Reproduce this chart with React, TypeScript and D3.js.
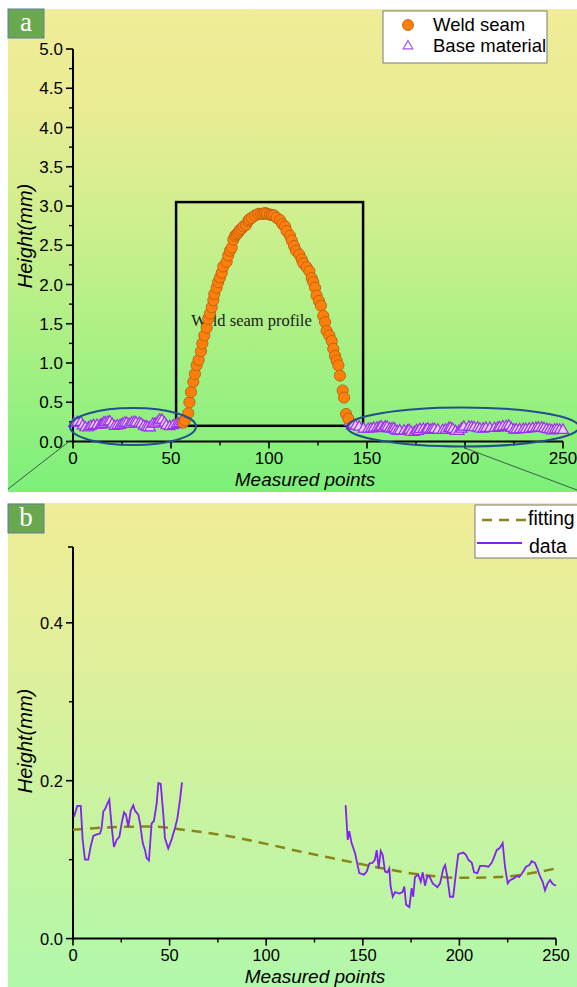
import * as d3 from "d3";

// weld seam profile (panel a)
const weldX = [56.3, 57.1, 58.8, 59.4, 60.2, 61.4, 62.2, 63.1, 64.1, 65.3, 66.0, 67.0, 68.2, 69.0, 69.9, 70.8, 71.6, 72.1, 73.3, 74.1, 75.0, 75.9, 76.7, 78.4, 79.2, 80.1, 81.0, 81.8, 82.7, 83.5, 84.3, 85.0, 86.0, 87.0, 88.3, 89.4, 90.0, 91.2, 92.9, 94.6, 96.0, 97.1, 98.0, 99.1, 100.5, 101.5, 102.6, 103.9, 105.6, 106.8, 108.2, 109.0, 110.7, 111.6, 112.8, 113.8, 115.5, 116.7, 117.5, 119.2, 120.6, 121.8, 122.6, 123.5, 124.3, 125.5, 126.5, 127.7, 128.6, 129.4, 130.8, 132.0, 132.8, 133.7, 134.5, 135.4, 136.2, 137.6, 138.3, 139.3, 140.5];
const weldY = [0.24, 0.27, 0.36, 0.50, 0.63, 0.76, 0.86, 0.97, 1.04, 1.15, 1.25, 1.35, 1.45, 1.56, 1.63, 1.71, 1.80, 1.88, 1.96, 2.03, 2.09, 2.15, 2.23, 2.29, 2.37, 2.43, 2.47, 2.57, 2.62, 2.64, 2.66, 2.69, 2.71, 2.74, 2.76, 2.81, 2.83, 2.85, 2.88, 2.90, 2.90, 2.90, 2.91, 2.90, 2.89, 2.885, 2.88, 2.85, 2.82, 2.77, 2.74, 2.68, 2.62, 2.56, 2.49, 2.43, 2.38, 2.32, 2.27, 2.22, 2.17, 2.08, 2.03, 1.96, 1.86, 1.79, 1.73, 1.60, 1.52, 1.41, 1.35, 1.28, 1.18, 1.09, 1.03, 0.97, 0.84, 0.65, 0.56, 0.35, 0.29];

// base material, left of the seam
const leftX = [0.5, 2.2, 4.0, 5.0, 6.2, 7.9, 9.1, 10.5, 12.3, 14.0, 14.8, 15.7, 16.6, 17.8, 18.8, 20.0, 21.2, 22.6, 24.0, 25.2, 26.4, 27.4, 28.6, 29.9, 31.2, 32.1, 33.8, 34.7, 36.1, 37.3, 38.1, 39.3, 40.7, 41.9, 43.3, 44.2, 45.4, 46.7, 47.6, 49.3, 51.1, 52.8, 54.0, 55.4, 56.4];
const leftY = [0.154, 0.168, 0.168, 0.125, 0.100, 0.100, 0.116, 0.130, 0.132, 0.133, 0.140, 0.161, 0.164, 0.171, 0.176, 0.142, 0.116, 0.125, 0.129, 0.146, 0.160, 0.157, 0.142, 0.162, 0.169, 0.162, 0.157, 0.146, 0.121, 0.112, 0.102, 0.099, 0.146, 0.149, 0.171, 0.197, 0.196, 0.159, 0.127, 0.114, 0.126, 0.140, 0.152, 0.176, 0.198];

// base material, right of the seam
const rightX = [141.1, 142.2, 143.0, 144.2, 146.0, 148.2, 150.6, 152.0, 153.4, 155.1, 156.3, 157.2, 158.2, 159.3, 160.3, 161.5, 162.7, 163.7, 164.4, 165.5, 166.7, 168.9, 170.6, 171.5, 172.4, 174.1, 175.3, 176.1, 177.0, 178.7, 180.0, 181.0, 182.2, 183.4, 184.4, 186.2, 188.6, 190.0, 191.7, 192.6, 193.7, 195.1, 196.8, 198.2, 199.4, 202.0, 203.4, 204.6, 206.4, 207.6, 209.3, 210.7, 212.7, 215.0, 216.7, 217.6, 219.3, 221.0, 222.4, 223.6, 225.0, 226.2, 227.9, 229.7, 231.0, 232.8, 234.5, 236.2, 237.4, 239.1, 240.3, 241.7, 243.1, 244.3, 245.7, 246.9, 248.3, 250.0];
const rightY = [0.169, 0.125, 0.136, 0.121, 0.108, 0.083, 0.081, 0.085, 0.095, 0.096, 0.100, 0.112, 0.089, 0.111, 0.106, 0.085, 0.084, 0.089, 0.066, 0.053, 0.059, 0.057, 0.059, 0.066, 0.043, 0.040, 0.064, 0.053, 0.078, 0.081, 0.072, 0.084, 0.067, 0.079, 0.079, 0.070, 0.065, 0.070, 0.089, 0.093, 0.079, 0.053, 0.053, 0.083, 0.107, 0.109, 0.106, 0.100, 0.096, 0.084, 0.083, 0.092, 0.092, 0.091, 0.096, 0.101, 0.112, 0.115, 0.121, 0.091, 0.070, 0.074, 0.076, 0.079, 0.078, 0.084, 0.091, 0.093, 0.098, 0.096, 0.089, 0.079, 0.072, 0.061, 0.070, 0.074, 0.069, 0.067];

// fitted curve (panel b)
const fitX = [0, 20, 40, 60, 80, 100, 120, 140, 160, 180, 200, 220, 240, 250];
const fitY = [0.138, 0.141, 0.142, 0.137, 0.130, 0.120, 0.109, 0.099, 0.089, 0.081, 0.077, 0.078, 0.084, 0.089];

const xTicks = [0, 50, 100, 150, 200, 250];
const yTicksA = [0, 0.5, 1, 1.5, 2, 2.5, 3, 3.5, 4, 4.5, 5];
const yTicksB = [0, 0.2, 0.4];

const sans = "'Liberation Sans', Arial, sans-serif";
const serif = "'Liberation Serif', 'Times New Roman', serif";

function Axes({ x, y, yTicks, yMinor, xMinor, yFmt, fs, labelY, titleX, yTop }: any) {
  const [x0, x1] = x.range();
  const y0 = y(0);
  return (
    <g>
      <line x1={x0} x2={x0} y1={y0 + 1} y2={yTop} stroke="#000" strokeWidth={2} />
      <line x1={x0 - 1} x2={x1} y1={y0} y2={y0} stroke="#000" strokeWidth={2} />
      {yTicks.map((t: number) => (
        <g key={"y" + t}>
          <line x1={x0 - 7} x2={x0} y1={y(t)} y2={y(t)} stroke="#000" strokeWidth={1.6} />
          <text x={x0 - 10} y={y(t) + fs * 0.36} textAnchor="end" fontSize={fs} fontFamily={sans}>{yFmt(t)}</text>
        </g>
      ))}
      {yMinor.map((t: number) => (
        <line key={"ym" + t} x1={x0 - 4} x2={x0} y1={y(t)} y2={y(t)} stroke="#000" strokeWidth={1.4} />
      ))}
      {xTicks.map((t) => (
        <g key={"x" + t}>
          <line x1={x(t)} x2={x(t)} y1={y0} y2={y0 + 7} stroke="#000" strokeWidth={1.6} />
          <text x={x(t)} y={y0 + 22} textAnchor="middle" fontSize={fs} fontFamily={sans}>{t}</text>
        </g>
      ))}
      {xMinor.map((t: number) => (
        <line key={"xm" + t} x1={x(t)} x2={x(t)} y1={y0} y2={y0 + 4} stroke="#000" strokeWidth={1.4} />
      ))}
      <text x={titleX} y={y0 + 44} textAnchor="middle" fontSize={19} fontStyle="italic" fontFamily={sans}>Measured points</text>
      <text transform={`translate(32,${labelY}) rotate(-90)`} textAnchor="middle" fontSize={20} fontStyle="italic" fontFamily={sans}>Height(mm)</text>
    </g>
  );
}

function PanelTag({ y, t }: { y: number; t: string }) {
  return (
    <g>
      <rect x={8} y={y} width={36} height={29} fill="#6aa84f" stroke="#5b7f9c" strokeWidth={1} />
      <text x={26} y={y + 22} textAnchor="middle" fill="#fff" fontSize={27} fontFamily={serif}>{t}</text>
    </g>
  );
}

export default function App() {
  const xA = d3.scaleLinear([0, 250], [73, 563]);
  const yA = d3.scaleLinear([0, 5], [441.5, 49]);
  const xB = d3.scaleLinear([0, 250], [73, 556]);
  const yB = d3.scaleLinear([0, 0.496], [938.6, 547]);

  const tri = d3.symbol(d3.symbolTriangle, 50)() as string;
  const triLeg = d3.symbol(d3.symbolTriangle, 40)() as string;

  const line = d3.line<[number, number]>().x((d) => xB(d[0])).y((d) => yB(d[1]));
  const fitLine = d3.line<[number, number]>().x((d) => xB(d[0])).y((d) => yB(d[1])).curve(d3.curveMonotoneX);

  const leftPts = leftX.map((v, i) => [v, leftY[i]] as [number, number]);
  const rightPts = rightX.map((v, i) => [v, rightY[i]] as [number, number]);
  const basePts = leftPts.concat(rightPts);
  const fitPts = fitX.map((v, i) => [v, fitY[i]] as [number, number]);

  const minorA = d3.range(0.25, 5, 0.5);
  const minorB = [0.1, 0.3];
  const minorX = d3.range(25, 250, 50);

  return (
    <svg width={577} height={987} style={{ position: "absolute", left: 0, top: 0 }}>
      <defs>
        <linearGradient id="bgA" x1="0" y1="0" x2="0" y2="1">
          <stop offset="0" stopColor="#f0ec97" />
          <stop offset="0.2" stopColor="#eaec94" />
          <stop offset="0.45" stopColor="#cdef8e" />
          <stop offset="0.7" stopColor="#a8f084" />
          <stop offset="1" stopColor="#7cf07a" />
        </linearGradient>
        <linearGradient id="bgB" x1="0" y1="0" x2="0" y2="1">
          <stop offset="0" stopColor="#f0ec97" />
          <stop offset="0.3" stopColor="#e2ef9a" />
          <stop offset="0.6" stopColor="#cbf3a0" />
          <stop offset="1" stopColor="#b1f8aa" />
        </linearGradient>
      </defs>
      <rect x={0} y={0} width={577} height={987} fill="#fff" />

      {/* panel a */}
      <rect x={8} y={9} width={569} height={483} fill="url(#bgA)" />
      <Axes x={xA} y={yA} yTicks={yTicksA} yMinor={minorA} xMinor={minorX} yFmt={d3.format(".1f")} fs={17} labelY={236} titleX={305} yTop={yA(5)} />
      <rect x={xA(52.6)} y={yA(3.05)} width={xA(148) - xA(52.6)} height={yA(0.2) - yA(3.05)} fill="none" stroke="#000" strokeWidth={2.5} />
      <text x={xA(60.3)} y={yA(1.47)} fontSize={16.5} fontFamily={serif} fill="#1a1a1a">Weld seam profile</text>
      {basePts.map((d, i) => (
        <path key={"t" + i} d={tri} transform={`translate(${xA(d[0])},${yA(d[1]) - 6})`} fill="#e6cffa" stroke="#9a30e8" strokeWidth={1.2} />
      ))}
      {weldX.map((v, i) => (
        <circle key={"w" + i} cx={xA(v)} cy={yA(weldY[i])} r={5.6} fill="#ff7f0a" stroke="#b05a10" strokeWidth={0.8} />
      ))}
      <ellipse cx={xA(30.6)} cy={yA(0.19)} rx={63} ry={18.5} fill="none" stroke="#24508a" strokeWidth={2} />
      <ellipse cx={xA(199)} cy={yA(0.185)} rx={116} ry={19.5} fill="none" stroke="#24508a" strokeWidth={2} />
      <line x1={71} y1={440} x2={8} y2={489} stroke="#3d5a48" strokeWidth={1} />
      <line x1={465} y1={448} x2={577} y2={490} stroke="#3d5a48" strokeWidth={1} />
      <PanelTag y={9} t="a" />
      <rect x={383} y={11} width={164} height={52} fill="#fff" stroke="#7a7a7a" strokeWidth={1} />
      <circle cx={408} cy={25} r={5.5} fill="#ff7f0a" stroke="#b05a10" strokeWidth={0.8} />
      <path d={triLeg} transform="translate(408,46)" fill="none" stroke="#a550f0" strokeWidth={1.2} />
      <text x={433} y={31} fontSize={18.5} fontFamily={sans}>Weld seam</text>
      <text x={433} y={52} fontSize={18.5} fontFamily={sans}>Base material</text>

      {/* panel b */}
      <rect x={8} y={503} width={569} height={484} fill="url(#bgB)" />
      <Axes x={xB} y={yB} yTicks={yTicksB} yMinor={minorB} xMinor={minorX} yFmt={d3.format(".1f")} fs={16.5} labelY={741} titleX={315} yTop={547} />
      <line x1={68} x2={73} y1={547} y2={547} stroke="#000" strokeWidth={1.6} />
      <path d={fitLine(fitPts) as string} fill="none" stroke="#8b8518" strokeWidth={2.5} strokeDasharray="10,7" />
      <path d={line(leftPts) as string} fill="none" stroke="#8322f0" strokeWidth={1.8} />
      <path d={line(rightPts) as string} fill="none" stroke="#8322f0" strokeWidth={1.8} />
      <PanelTag y={504} t="b" />
      <rect x={475} y={505} width={110} height={53} fill="#fff" stroke="#7a7a7a" strokeWidth={1} />
      <line x1={482} x2={527} y1={520} y2={520} stroke="#8b8518" strokeWidth={2.5} strokeDasharray="10,7" />
      <line x1={477} x2={522} y1={543} y2={543} stroke="#8322f0" strokeWidth={1.8} />
      <text x={528} y={525} fontSize={19.5} fontFamily={sans}>fitting</text>
      <text x={529} y={553} fontSize={19.5} fontFamily={sans}>data</text>
    </svg>
  );
}
